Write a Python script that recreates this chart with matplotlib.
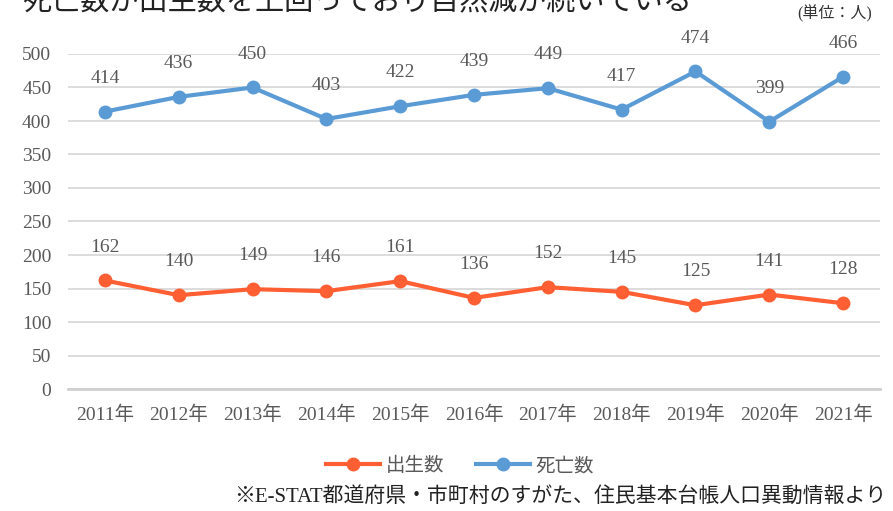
import matplotlib
matplotlib.use('Agg')
import matplotlib.pyplot as plt

# データ
years = ['2011年', '2012年', '2013年', '2014年', '2015年', '2016年',
         '2017年', '2018年', '2019年', '2020年', '2021年']
births = [162, 140, 149, 146, 161, 136, 152, 145, 125, 141, 128]
deaths = [414, 436, 450, 403, 422, 439, 449, 417, 474, 399, 466]
yticks = [0, 50, 100, 150, 200, 250, 300, 350, 400, 450, 500]

plt.rcParams['font.family'] = ['Liberation Serif', 'Noto Sans CJK JP', 'DejaVu Sans']
text_color = '#595959'
birth_color = '#FF5F33'
death_color = '#5B9BD5'

fig = plt.figure(figsize=(8.93, 5.11), dpi=100)
ax = fig.add_axes([68 / 893, 1 - 389 / 511, 812 / 893, 335 / 511])

x = list(range(len(years)))
ax.plot(x, births, '-o', color=birth_color, lw=3, ms=9, label='出生数', zorder=3)
ax.plot(x, deaths, '-o', color=death_color, lw=3, ms=9, label='死亡数', zorder=3)

for xi, v in zip(x, births):
    ax.annotate(str(v), (xi, v), xytext=(0, 24), textcoords='offset points',
                ha='center', va='center', fontsize=14, color=text_color)
for xi, v in zip(x, deaths):
    ax.annotate(str(v), (xi, v), xytext=(0, 24), textcoords='offset points',
                ha='center', va='center', fontsize=14, color=text_color)

ax.set_xlim(-0.5, len(years) - 0.5)
ax.set_ylim(0, 500)
ax.set_yticks(yticks)
ax.set_xticks(x)
ax.set_xticklabels(years)
ax.grid(axis='y', color='#d9d9d9', lw=1.3)
ax.set_axisbelow(True)
for s in ['top', 'right', 'left']:
    ax.spines[s].set_visible(False)
ax.spines['bottom'].set_color('#d0d0d0')
ax.spines['bottom'].set_linewidth(2)
ax.tick_params(length=0, labelcolor=text_color, labelsize=14)
ax.tick_params(axis='x', pad=12)
ax.tick_params(axis='y', pad=12)

fig.text(22 / 893, 1 - 3 / 511, '死亡数が出生数を上回っており自然減が続いている',
         fontsize=21, va='center', ha='left', color='#222222')
fig.text(872 / 893, 1 - 14 / 511, '(単位：人)', fontsize=11.5, va='center', ha='right',
         color='#333333')

fig.legend(loc='center', bbox_to_anchor=(460 / 893, 1 - 466 / 511), ncol=2,
           frameon=False, fontsize=14, handlelength=2.8, columnspacing=1.6,
           handletextpad=0.3, labelcolor=text_color)

fig.text(886 / 893, 1 - 497 / 511, '※E-STAT都道府県・市町村のすがた、住民基本台帳人口異動情報より',
         fontsize=15, ha='right', va='center', color='#222222')

fig.savefig('out.png', dpi=100)
